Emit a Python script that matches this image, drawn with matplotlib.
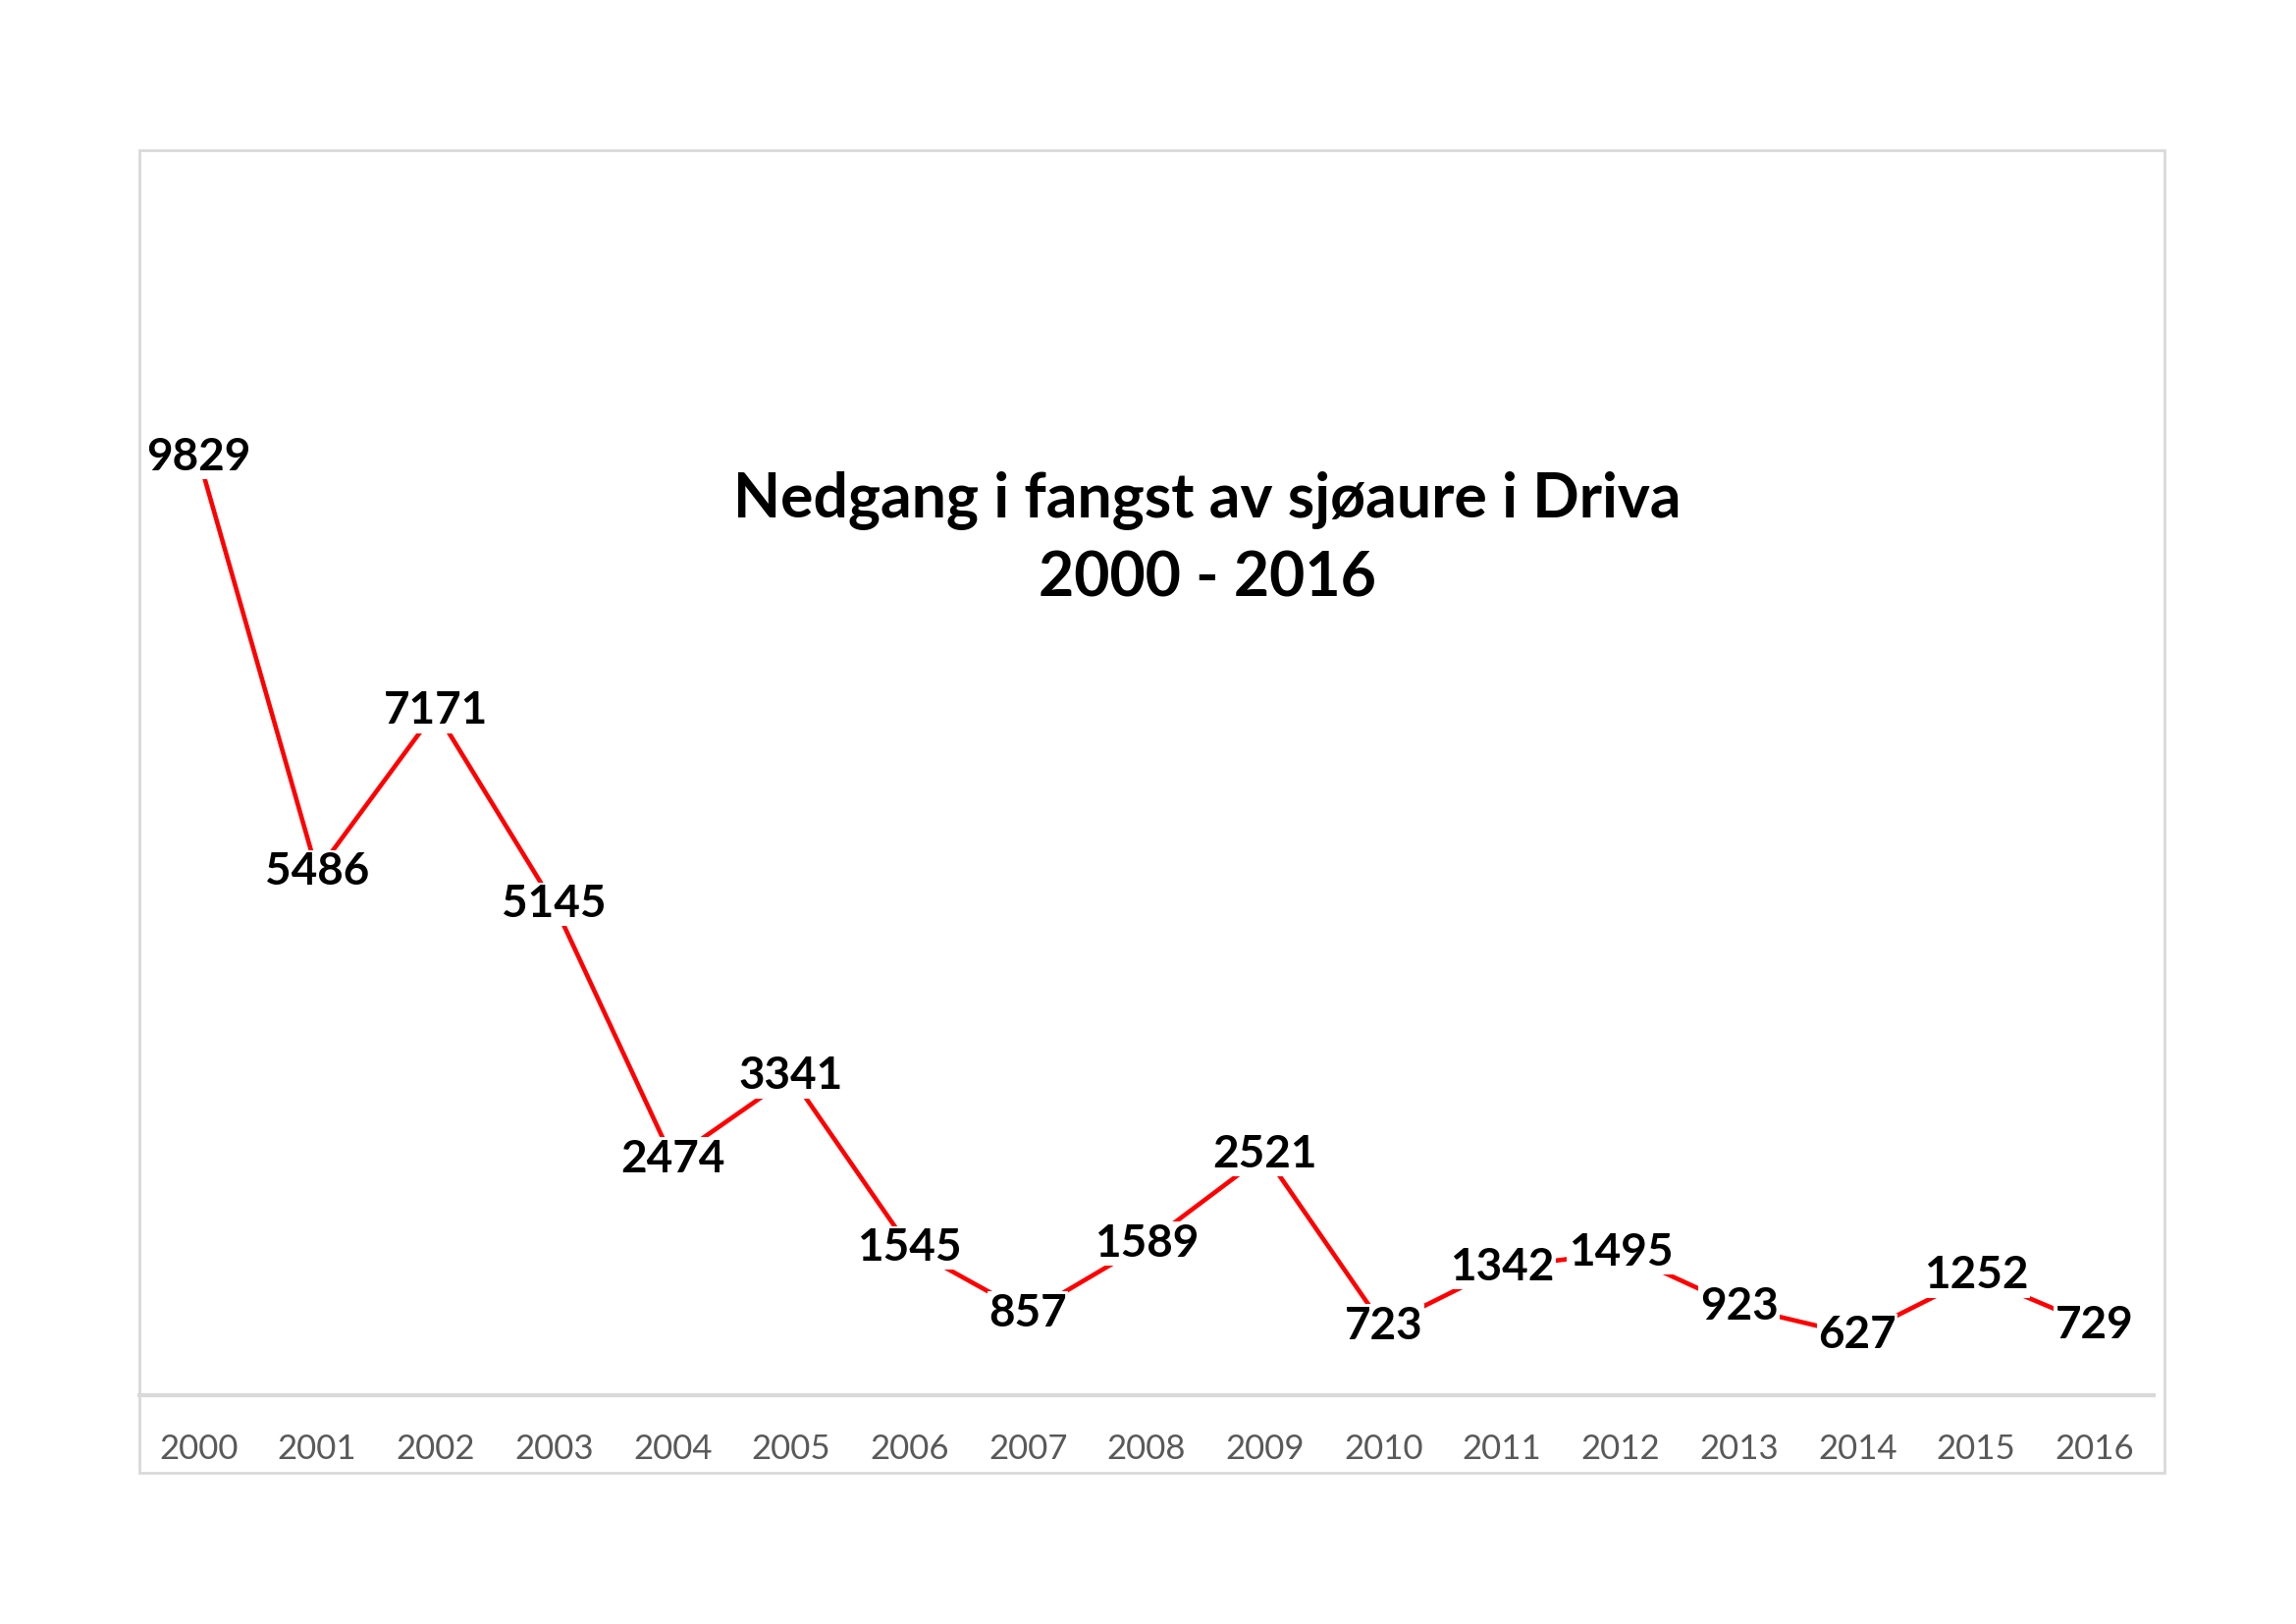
import matplotlib.pyplot as plt
from matplotlib.patches import Rectangle

# Fangst av sjøaure i Driva
years = [str(y) for y in range(2000, 2017)]
catch = [9829, 5486, 7171, 5145, 2474, 3341, 1545, 857, 1589, 2521,
         723, 1342, 1495, 923, 627, 1252, 729]
title = "Nedgang i fangst av sjøaure i Driva\n2000 - 2016"

plt.rcParams['font.family'] = ['Lato', 'DejaVu Sans']

fig = plt.figure(figsize=(23.39, 16.54), dpi=100)

# ramme rundt diagrammet
fig.patches.append(Rectangle((142 / 2339, 1 - 1500 / 1654), (2205 - 142) / 2339,
                             (1500 - 153) / 1654, transform=fig.transFigure,
                             fill=False, edgecolor='#d9d9d9', linewidth=2))

ax = fig.add_axes([142 / 2339, 1 - 1421 / 1654, 2052 / 2339, 1166 / 1654])
x = list(range(len(years)))
ax.plot(x, catch, color='#ff0000', linewidth=3.3, zorder=2)

for xi, v in zip(x, catch):
    ax.text(xi, v, str(v), ha='center', va='center', fontsize=33,
            fontweight='bold', color='black', zorder=3,
            bbox=dict(facecolor='white', edgecolor='none', pad=1))

ax.set_xlim(-0.5, len(years) - 0.5)
ax.set_ylim(0, 12000)
ax.set_xticks(x)
ax.set_xticklabels(years, fontsize=25, color='#595959')
ax.tick_params(axis='x', length=0, pad=28)
ax.set_yticks([])
for side in ['top', 'right', 'left']:
    ax.spines[side].set_visible(False)
ax.spines['bottom'].set_color('#d9d9d9')
ax.spines['bottom'].set_linewidth(3)

fig.text(1230 / 2339, 1 - 549 / 1654, title, ha='center', va='center',
         fontsize=45, fontweight='bold', color='black', linespacing=1.45)

fig.savefig('out.png', dpi=100)
